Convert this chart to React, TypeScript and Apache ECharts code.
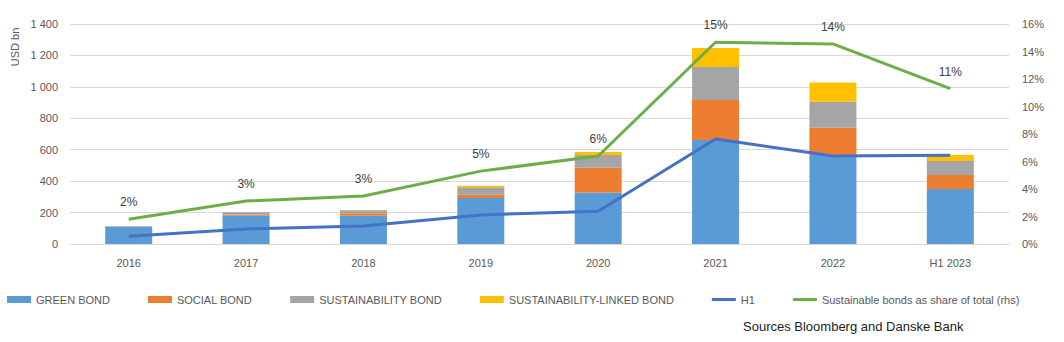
import React, { useEffect, useRef } from "react";
import * as echarts from "echarts";

const categories = ["2016", "2017", "2018", "2019", "2020", "2021", "2022", "H1 2023"];
const greenBond = [110, 180, 180, 293, 327, 662, 567, 350];
const socialBond = [2, 8, 15, 21, 159, 255, 173, 89];
const sustainabilityBond = [3, 14, 20, 47, 81, 210, 166, 89];
const sustainabilityLinked = [0, 0, 1, 10, 19, 121, 121, 39];
const h1 = [49, 95, 115, 185, 208, 668, 560, 565];
const shareOfTotal = [1.8, 3.13, 3.49, 5.3, 6.4, 14.67, 14.55, 11.3];
const shareLabels = ["2%", "3%", "3%", "5%", "6%", "15%", "14%", "11%"];
const leftTicks = { min: 0, max: 1400, interval: 200 };
const rightTicks = { min: 0, max: 16, interval: 2 };

const FONT = "'Liberation Sans', 'DejaVu Sans', sans-serif";
const AXIS_COLOR = "#595959";

export default function App() {
  const ref = useRef<HTMLDivElement>(null);
  useEffect(() => {
    if (!ref.current) return;
    const chart = echarts.init(ref.current, undefined, { renderer: "svg" });
    const barSeries = (name: string, data: number[], color: string) => ({
      name,
      type: "bar",
      stack: "total",
      data,
      barWidth: 47,
      itemStyle: { color },
      yAxisIndex: 0,
    });
    chart.setOption({
      animation: false,
      textStyle: { fontFamily: FONT },
      grid: { left: 70, right: 55, top: 24, bottom: 98, containLabel: false },
      xAxis: {
        type: "category",
        data: categories,
        axisLine: { lineStyle: { color: "#d9d9d9" } },
        axisTick: { show: false },
        axisLabel: { color: AXIS_COLOR, fontSize: 11, margin: 13, fontFamily: FONT },
      },
      yAxis: [
        {
          type: "value",
          ...leftTicks,
          axisLine: { show: false },
          axisTick: { show: false },
          splitLine: { lineStyle: { color: "#d9d9d9" } },
          axisLabel: {
            color: AXIS_COLOR,
            fontSize: 11,
            margin: 12,
            fontFamily: FONT,
            formatter: (v: number) => String(v).replace(/\B(?=(\d{3})+(?!\d))/g, " "),
          },
        },
        {
          type: "value",
          ...rightTicks,
          axisLine: { show: false },
          axisTick: { show: false },
          splitLine: { show: false },
          axisLabel: {
            color: AXIS_COLOR,
            fontSize: 11,
            margin: 13,
            fontFamily: FONT,
            formatter: (v: number) => v + "%",
          },
        },
      ],
      legend: {
        left: 7,
        top: 294,
        padding: 0,
        itemGap: 38,
        itemWidth: 24,
        itemHeight: 7,
        textStyle: { color: AXIS_COLOR, fontSize: 11, fontFamily: FONT },
        data: [
          { name: "GREEN BOND", icon: "rect" },
          { name: "SOCIAL BOND", icon: "rect" },
          { name: "SUSTAINABILITY BOND", icon: "rect" },
          { name: "SUSTAINABILITY-LINKED BOND", icon: "rect" },
          { name: "H1", icon: "path://M0,0 L24,0 L24,3 L0,3 Z" },
          { name: "Sustainable bonds as share of total (rhs)", icon: "path://M0,0 L24,0 L24,3 L0,3 Z" },
        ],
      },
      series: [
        barSeries("GREEN BOND", greenBond, "#5B9BD5"),
        barSeries("SOCIAL BOND", socialBond, "#ED7D31"),
        barSeries("SUSTAINABILITY BOND", sustainabilityBond, "#A5A5A5"),
        barSeries("SUSTAINABILITY-LINKED BOND", sustainabilityLinked, "#FFC000"),
        {
          name: "H1",
          type: "line",
          data: h1,
          yAxisIndex: 0,
          symbol: "none",
          lineStyle: { color: "#4472C4", width: 3 },
          itemStyle: { color: "#4472C4" },
        },
        {
          name: "Sustainable bonds as share of total (rhs)",
          type: "line",
          data: shareOfTotal,
          yAxisIndex: 1,
          symbol: "circle",
          symbolSize: 0,
          showSymbol: true,
          lineStyle: { color: "#70AD47", width: 3 },
          itemStyle: { color: "#70AD47" },
          label: {
            show: true,
            position: "top",
            distance: 11,
            color: "#404040",
            fontSize: 12,
            fontFamily: FONT,
            formatter: (p: any) => shareLabels[p.dataIndex],
          },
        },
      ],
      graphic: [
        {
          type: "text",
          x: 15,
          y: 47,
          rotation: Math.PI / 2,
          style: {
            text: "USD bn",
            fill: AXIS_COLOR,
            fontSize: 11,
            fontFamily: FONT,
            align: "center",
            verticalAlign: "middle",
          },
        },
        {
          type: "text",
          x: 743,
          y: 326,
          style: {
            text: "Sources Bloomberg and Danske Bank",
            fill: "#222",
            fontSize: 13,
            fontFamily: FONT,
            align: "left",
            verticalAlign: "middle",
          },
        },
      ],
    });
    return () => chart.dispose();
  }, []);
  return (
    <div
      ref={ref}
      style={{ position: "fixed", left: 0, top: 0, width: 1064, height: 342, background: "#fff" }}
    />
  );
}
